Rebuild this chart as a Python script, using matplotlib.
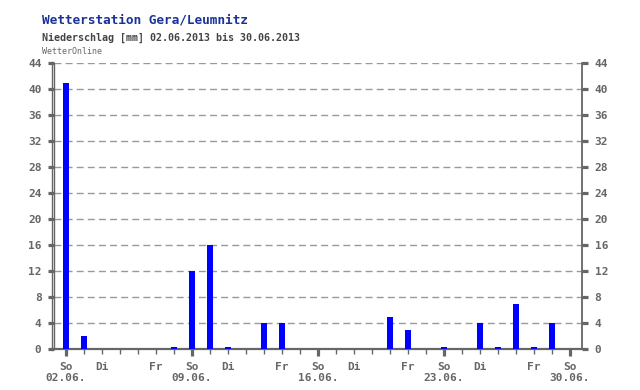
import matplotlib
matplotlib.use("Agg")
import matplotlib.pyplot as plt
from matplotlib.lines import Line2D

# Tagesniederschlag Gera/Leumnitz, 02.06.2013 - 30.06.2013
days = list(range(2, 31))
rain_mm = [41, 2, 0, 0, 0, 0, 0.3, 12, 16, 0.3, 0, 4, 4, 0, 0, 0, 0, 0,
           5, 3, 0, 0.3, 0, 4, 0.3, 7, 0.3, 4, 0]
weekdays = ["So", "Mo", "Di", "Mi", "Do", "Fr", "Sa"]
shown_days = ["Di", "Fr"]
y_ticks = list(range(0, 45, 4))

grey = "#666666"
font = ["DejaVu Sans Mono"]

fig = plt.figure(figsize=(6.4, 3.9), dpi=100)
ax = fig.add_axes([54 / 640, 1 - 349 / 390, 528 / 640, 286 / 390])

x = list(range(len(days)))
ax.bar(x, rain_mm, width=0.34, color="#0000ff", zorder=3)

ax.set_xlim(-0.667, 28.67)
ax.set_ylim(0, 44)

# y axis, both sides
ax.set_yticks(y_ticks)
ax.yaxis.grid(True, color="#999999", linestyle=(0, (5, 3)), linewidth=1)
ax.set_axisbelow(True)
ax.tick_params(axis="y", which="major", left=True, right=True, labelleft=True,
               labelright=True, length=4.5, width=2.3, color=grey, pad=4.5,
               labelcolor=grey, labelsize=8)

# x axis: every day a small tick, Sundays big with date
sundays = [i for i in x if i % 7 == 0]
ax.set_xticks(sundays)
ax.set_xticklabels(["So\n%02d.06." % days[i] for i in sundays])
ax.set_xticks(x, minor=True)
ax.set_xticklabels([weekdays[i % 7] if weekdays[i % 7] in shown_days else ""
                    for i in x], minor=True)
ax.tick_params(axis="x", which="major", length=5, width=2.3, color=grey, pad=4,
               labelcolor=grey, labelsize=8)
ax.tick_params(axis="x", which="minor", length=3.5, width=1, color=grey, pad=5.5,
               labelcolor=grey, labelsize=8)

for lbl in ax.get_xticklabels(which="both") + ax.get_yticklabels():
    lbl.set_family(font)
    lbl.set_fontweight("bold")
    lbl.set_linespacing(1.15)

ax.spines["top"].set_visible(False)
for side in ["left", "right", "bottom"]:
    ax.spines[side].set_color(grey)
ax.spines["left"].set_linewidth(1)
ax.spines["right"].set_linewidth(1.3)
ax.spines["bottom"].set_linewidth(1.6)

# second line of the left axis
fig.add_artist(Line2D([52 / 640, 52 / 640], [1 - 350 / 390, 1 - 62 / 390],
                      transform=fig.transFigure, color=grey, linewidth=1))

fig.text(42 / 640, 1 - 20 / 390, "Wetterstation Gera/Leumnitz", color="#1a3399",
         fontsize=9.2, family=font, fontweight="bold", va="center")
fig.text(42 / 640, 1 - 38 / 390, "Niederschlag [mm] 02.06.2013 bis 30.06.2013",
         color="#444444", fontsize=7.2, family=font, fontweight="bold", va="center")
fig.text(42 / 640, 1 - 52 / 390, "WetterOnline", color="#666666",
         fontsize=6, family=font, va="center")

fig.savefig("out.png", dpi=100)
